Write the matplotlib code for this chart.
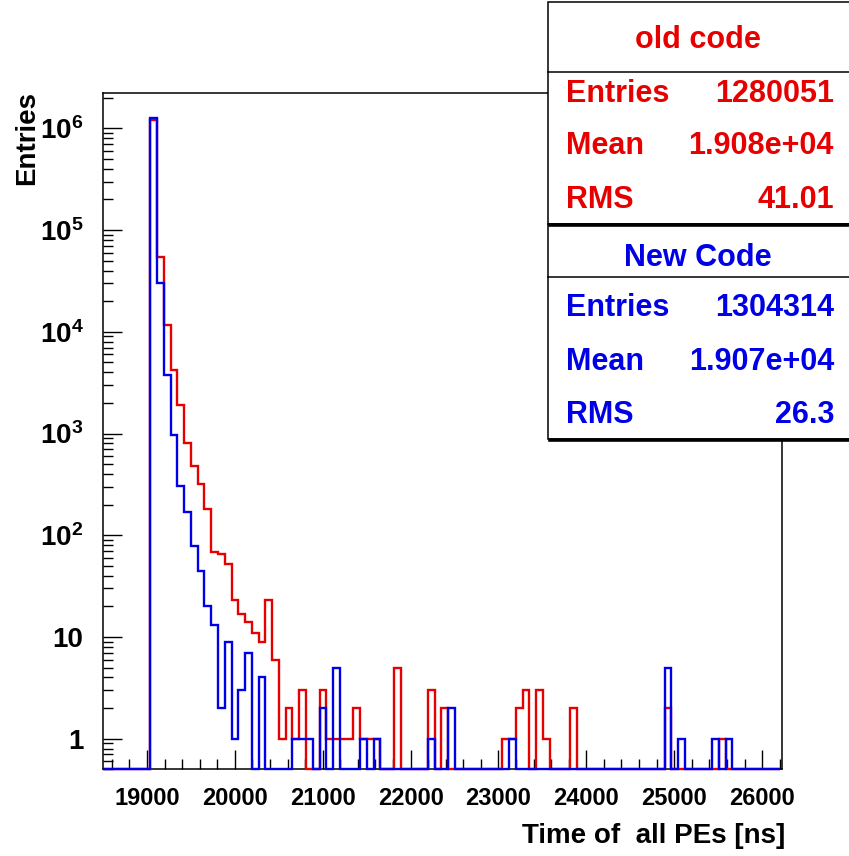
import numpy as np
import matplotlib
matplotlib.use("Agg")
import matplotlib.pyplot as plt
from matplotlib import font_manager
from matplotlib.patches import Rectangle
from matplotlib.lines import Line2D
from matplotlib.ticker import LogLocator, NullFormatter, MultipleLocator

# binning of the histogram (100 bins, 77 ns wide)
n_bins = 100
t_lo = 18500
t_hi = 26200

# non-empty bins (bin index, entries)
red_bins = [7, 8, 9, 10, 11, 12, 13, 14, 15, 16, 17, 18, 19, 20, 21, 22, 23, 24, 25,
            26, 27, 28, 29, 32, 33, 34, 35, 36, 37, 38, 39, 40, 43, 48, 50,
            59, 60, 61, 62, 64, 65, 69, 83, 91]
red_counts = [1205600, 54600, 11600, 4190, 1900, 815, 477, 320, 183, 68, 66, 52, 23, 17, 14, 11, 9, 23, 6,
              1, 2, 1, 3, 3, 1, 1, 1, 1, 2, 1, 1, 1, 5, 3, 2,
              1, 1, 2, 3, 3, 1, 2, 2, 1]

blue_bins = [7, 8, 9, 10, 11, 12, 13, 14, 15, 16, 17, 18, 19, 20, 21, 23,
             28, 29, 30, 32, 34, 38, 40, 48, 51, 60, 83, 85, 90, 92]
blue_counts = [1269000, 29900, 3740, 970, 305, 171, 78, 44, 20, 13, 2, 9, 1, 3, 7, 4,
               1, 1, 1, 2, 5, 1, 1, 1, 2, 1, 5, 1, 1, 1]

old_title = "old code"
old_stats = [("Entries", "1280051"), ("Mean", "1.908e+04"), ("RMS", "41.01")]
new_title = "New Code"
new_stats = [("Entries", "1304314"), ("Mean", "1.907e+04"), ("RMS", "26.3")]

y_ticks = [1, 10, 1e2, 1e3, 1e4, 1e5, 1e6]
y_labels = ["1", "10", r"$\mathregular{10^{2}}$", r"$\mathregular{10^{3}}$",
            r"$\mathregular{10^{4}}$", r"$\mathregular{10^{5}}$", r"$\mathregular{10^{6}}$"]
x_ticks = [19000, 20000, 21000, 22000, 23000, 24000, 25000, 26000]

RED = "#e60000"
BLUE = "#0000e6"


def pick_font():
    for name in ["Liberation Sans Narrow", "Liberation Sans", "DejaVu Sans"]:
        try:
            font_manager.findfont(font_manager.FontProperties(family=name, weight="bold"),
                                  fallback_to_default=False)
            return name
        except ValueError:
            pass
    return "DejaVu Sans"


font = pick_font()
plt.rcParams["font.family"] = [font, "DejaVu Sans"]
plt.rcParams["font.weight"] = "bold"
plt.rcParams["mathtext.fontset"] = "custom"
plt.rcParams["mathtext.rm"] = font + ":bold"
plt.rcParams["mathtext.it"] = font + ":bold"
plt.rcParams["mathtext.bf"] = font + ":bold"

W, H = 849, 856
fig = plt.figure(figsize=(W / 100, H / 100), dpi=100)


def fx(px):
    return px / W


def fy(py):
    return 1 - py / H


ax = fig.add_axes([fx(103), fy(769.3), fx(782.3) - fx(103), fy(92.7) - fy(769.3)])

ymin, ymax = 0.5, 2.24e6
edges = np.linspace(t_lo, t_hi, n_bins + 1)

red = np.zeros(n_bins)
red[red_bins] = red_counts
blue = np.zeros(n_bins)
blue[blue_bins] = blue_counts

# empty bins sit on the bottom of the frame, like ROOT does on a log axis
ax.stairs(np.maximum(red, ymin), edges, baseline=None, color=RED, lw=1.7, clip_on=False, zorder=3)
ax.stairs(np.maximum(blue, ymin), edges, baseline=None, color=BLUE, lw=1.7, clip_on=False, zorder=4)

ax.set_yscale("log")
ax.set_xlim(t_lo, 26230)
ax.set_ylim(ymin, ymax)

ax.set_yticks(y_ticks, y_labels)
ax.yaxis.set_minor_locator(LogLocator(base=10, subs=range(2, 10), numticks=20))
ax.yaxis.set_minor_formatter(NullFormatter())
ax.set_xticks(x_ticks, [str(t) for t in x_ticks])
ax.xaxis.set_minor_locator(MultipleLocator(200))

ax.tick_params(which="both", direction="in", width=1.0, top=False, right=False)
ax.tick_params(which="major", length=14)
ax.tick_params(which="minor", length=7)
ax.tick_params(axis="y", which="major", labelsize=20, pad=14)
ax.tick_params(axis="x", which="major", labelsize=17, pad=13)
for s in ax.spines.values():
    s.set_linewidth(1.1)

fig.text(fx(27), fy(91), "Entries", rotation=90, ha="center", va="top", fontsize=20)
fig.text(fx(785), fy(843), "Time of  all PEs [ns]", ha="right", va="baseline", fontsize=20)


# stats boxes
def stat_box(top, sep, bottom, title, rows, color, title_base, row_bases):
    box = Rectangle((fx(548), fy(bottom)), fx(852) - fx(548), fy(top) - fy(bottom),
                    transform=fig.transFigure, facecolor="white", edgecolor="black",
                    lw=1.1, clip_on=False, zorder=5)
    fig.add_artist(box)
    fig.add_artist(Line2D([fx(548), fx(852)], [fy(sep), fy(sep)], transform=fig.transFigure,
                          color="black", lw=1.1, zorder=6))
    fig.add_artist(Line2D([fx(550), fx(852)], [fy(bottom + 1), fy(bottom + 1)],
                          transform=fig.transFigure, color="black", lw=2.6, zorder=6))
    fig.text(fx(698), fy(title_base), title, color=color, ha="center", va="baseline",
             fontsize=22, zorder=7)
    for (name, val), yb in zip(rows, row_bases):
        fig.text(fx(566), fy(yb), name, color=color, ha="left", va="baseline", fontsize=22, zorder=7)
        fig.text(fx(834), fy(yb), val, color=color, ha="right", va="baseline", fontsize=22, zorder=7)


stat_box(2, 72, 224, old_title, old_stats, RED, 48, [102, 153.5, 208.5])
stat_box(224, 277, 439, new_title, new_stats, BLUE, 266, [316, 370, 423])

fig.savefig("out.png", dpi=100)
